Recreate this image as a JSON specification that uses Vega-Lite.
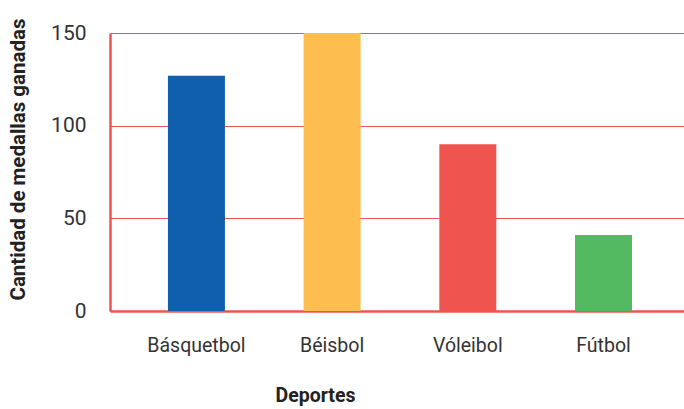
{
  "$schema": "https://vega.github.io/schema/vega-lite/v6.json",
  "width": 574,
  "height": 278,
  "autosize": {"type": "none"},
  "padding": {"left": 110, "top": 33, "right": 0, "bottom": 98},
  "background": "white",
  "config": {
    "view": {"stroke": null},
    "font": "Roboto"
  },
  "data": {
    "values": [
      {"deporte": "Básquetbol", "medallas": 127},
      {"deporte": "Béisbol", "medallas": 150},
      {"deporte": "Vóleibol", "medallas": 90},
      {"deporte": "Fútbol", "medallas": 41}
    ]
  },
  "mark": {"type": "bar"},
  "encoding": {
    "x": {
      "field": "deporte",
      "type": "nominal",
      "sort": null,
      "scale": {"paddingInner": 0.58, "paddingOuter": 0.405, "align": 0.527},
      "axis": {
        "title": "Deportes",
        "titleFontSize": 19.5,
        "titleFontWeight": "bold",
        "titleColor": "#222",
        "titleX": 205,
        "titleY": 84,
        "titleBaseline": "middle",
        "titleAlign": "center",
        "labelAngle": 0,
        "labelFontSize": 19.5,
        "labelColor": "#333",
        "labelBaseline": "middle",
        "labelPadding": 34,
        "ticks": false,
        "domainColor": "#ef5350",
        "domainWidth": 2.5
      }
    },
    "y": {
      "field": "medallas",
      "type": "quantitative",
      "scale": {"domain": [0, 150], "nice": false},
      "axis": {
        "title": "Cantidad de medallas ganadas",
        "titleFontSize": 20.5,
        "titleFontWeight": "bold",
        "titleColor": "#222",
        "titleAngle": -90,
        "titleX": -92,
        "titleY": 126,
        "titleBaseline": "middle",
        "titleAlign": "center",
        "values": [0, 50, 100, 150],
        "labelFontSize": 21,
        "labelColor": "#333",
        "labelPadding": 24,
        "ticks": false,
        "grid": true,
        "gridColor": "#ef5350",
        "gridWidth": 1.2,
        "domainColor": "#ef5350",
        "domainWidth": 2.5
      }
    },
    "color": {
      "field": "deporte",
      "type": "nominal",
      "scale": {
        "domain": ["Básquetbol", "Béisbol", "Vóleibol", "Fútbol"],
        "range": ["#0f5fad", "#fdbd4f", "#f0544f", "#54ba61"]
      },
      "legend": null
    }
  }
}
